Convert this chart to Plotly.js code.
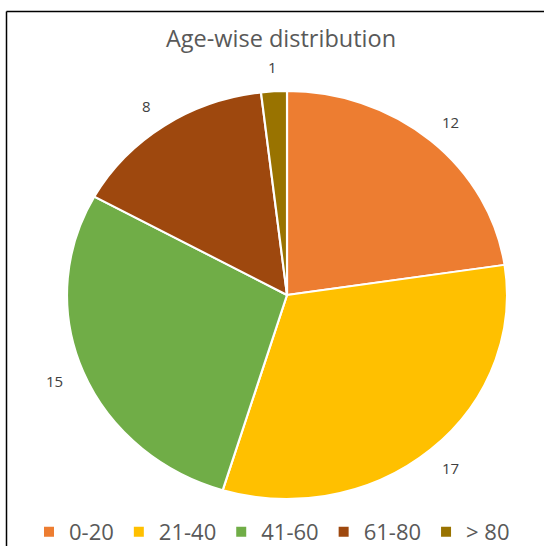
<!DOCTYPE html>
<html>
<head>
<meta charset="utf-8">
<script src="https://cdn.plot.ly/plotly-3.0.1.min.js"></script>
<style>html,body{margin:0;padding:0;background:#fff;}#chart{width:544px;height:546px;}</style>
</head>
<body>
<div id="chart"></div>
<script>
const categories = ["0-20", "21-40", "41-60", "61-80", "> 80"];
const counts = [12, 17, 15, 8, 1];
const sliceColors = ["#ED7D31", "#FFC000", "#70AD47", "#9E480E", "#997300"];

const W = 544, H = 546;
const cx = 287, cy = 295, r = 204;   // centre and radius of the pie in the picture
const stretchX = 220 / 204;          // reference pie is slightly wider than tall
const labelRx = 251, labelRy = 228;  // distance of value labels from the centre

const pie = {
  type: "pie",
  labels: categories,
  values: counts,
  sort: false,
  direction: "clockwise",
  rotation: 0,
  marker: { colors: sliceColors, line: { color: "#ffffff", width: 2 } },
  textinfo: "none",
  hoverinfo: "label+value",
  domain: {
    x: [(cx - r) / W, (cx + r) / W],
    y: [(H - cy - r) / H, (H - cy + r) / H]
  },
  showlegend: true
};

// value labels placed outside each slice at its mid-angle (derived from the data)
const total = counts.reduce((a, b) => a + b, 0);
let cum = 0;
const annotations = counts.map(function (v) {
  const mid = (cum + v / 2) / total * 2 * Math.PI;
  cum += v;
  const px = cx + labelRx * Math.sin(mid);
  const py = cy - labelRy * Math.cos(mid);
  return {
    xref: "paper", yref: "paper",
    x: px / W, y: 1 - py / H,
    xanchor: "center", yanchor: "middle",
    text: String(v), showarrow: false,
    font: { family: "Open Sans, sans-serif", size: 15, color: "#404040" }
  };
});

const layout = {
  width: W, height: H,
  margin: { l: 0, r: 0, t: 0, b: 0 },
  paper_bgcolor: "#ffffff",
  title: {
    text: "Age-wise distribution",
    font: { family: "Open Sans, sans-serif", size: 23.5, color: "#595959" },
    x: 281 / W, xanchor: "center",
    y: 1 - 39 / H, yanchor: "middle"
  },
  legend: {
    orientation: "h",
    x: 0.5, xanchor: "center",
    y: 0, yanchor: "bottom",
    font: { family: "Open Sans, sans-serif", size: 22, color: "#595959" },
    traceorder: "normal"
  },
  annotations: annotations,
  shapes: [
    { type: "line", xref: "paper", yref: "paper", x0: 6.5 / W, x1: 1.05, y0: 1 - 11.5 / H, y1: 1 - 11.5 / H, line: { color: "#000000", width: 1.5 } },
    { type: "line", xref: "paper", yref: "paper", x0: 6.5 / W, x1: 6.5 / W, y0: 1 - 11.5 / H, y1: -0.05, line: { color: "#000000", width: 1.5 } }
  ]
};

Plotly.newPlot("chart", [pie], layout, { displayModeBar: false, staticPlot: true }).then(function (gd) {
  // stretch the pie horizontally about its centre, as in the reference
  const layer = gd.querySelector(".pielayer");
  if (layer) {
    const tx = cx * (1 - stretchX);
    layer.setAttribute("transform", "translate(" + tx + ",0) scale(" + stretchX + ",1)");
  }
  // nudge the legend row down to sit on the bottom edge as in the reference
  const lg = gd.querySelector(".legend");
  if (lg) {
    const m = /translate\(\s*([-\d.e]+)[ ,]+([-\d.e]+)\s*\)/.exec(lg.getAttribute("transform") || "");
    if (m) lg.setAttribute("transform", "translate(" + m[1] + "," + (parseFloat(m[2]) + 7) + ")");
  }
});
</script>
</body>
</html>
